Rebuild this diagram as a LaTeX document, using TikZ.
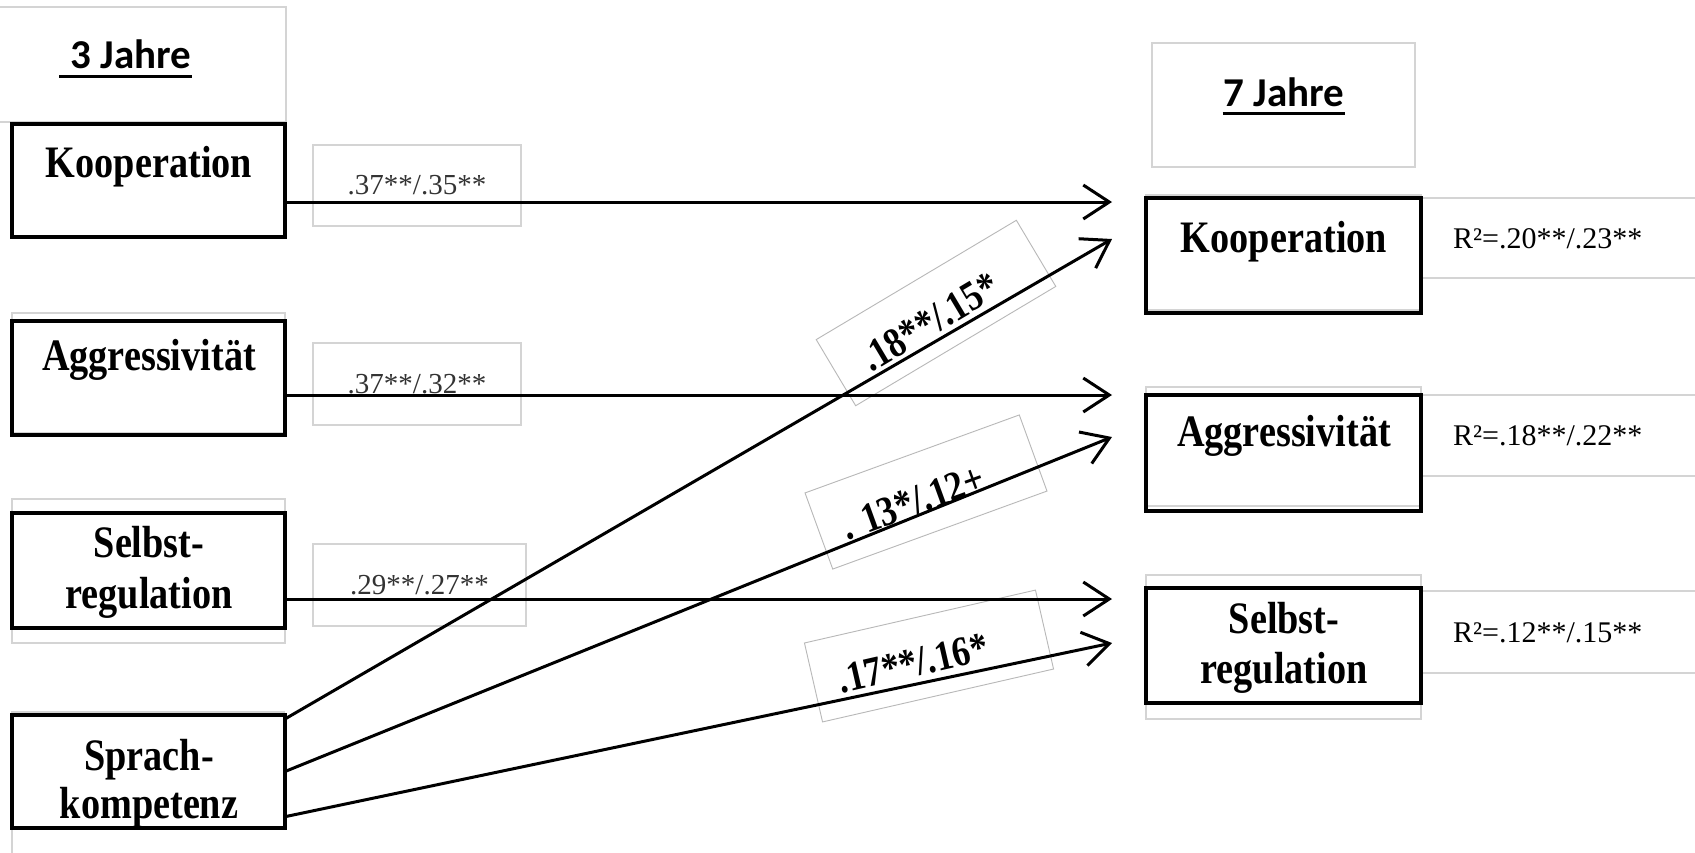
\documentclass[tikz,border=0pt]{standalone}
\usepackage{fontspec}
\usetikzlibrary{arrows.meta,calc}
\setmainfont{Liberation Serif}
\newfontfamily\boxfont{Liberation Serif}[FakeStretch=0.85]
\newfontfamily\headfont{Carlito}
\begin{document}
\begin{tikzpicture}[x=1pt,y=-1pt,
  varbox/.style={draw,line width=3.3pt,outer sep=0pt,inner sep=0pt,anchor=north west},
  faint/.style={draw=black!17,line width=1.2pt},
  rbox/.style={draw=black!28,line width=0.9pt,inner sep=0pt,outer sep=0pt},
  lbl/.style={font=\fontsize{45}{50}\selectfont\boxfont\bfseries,anchor=base,inner sep=0pt},
  rlbl/.style={font=\fontsize{42}{46}\selectfont\boxfont\bfseries,inner sep=0pt},
  head/.style={font=\fontsize{41}{46}\selectfont\headfont\bfseries,anchor=base,inner sep=0pt},
  plbl/.style={draw=black!17,line width=1.2pt,font=\fontsize{29}{32}\selectfont,text=black!80,inner sep=0pt},
  rsq/.style={font=\fontsize{30}{34}\selectfont,anchor=base west,inner sep=0pt},
  arr/.style={line width=3pt,-{Straight Barb[length=26pt,width=34pt]}}
]
\useasboundingbox[fill=white] (0,0) rectangle (1695,852);

% faint text-frame outlines
\draw[faint] (-2,7) rectangle (286,122);
\draw[faint] (12,313) rectangle (285,433);
\draw[faint] (12,499) rectangle (285,643);
\draw[faint] (285,712) -- (12,712) -- (12,880);
\draw[faint] (1152,43) rectangle (1415,167);
\draw[faint] (1146,195) rectangle (1421,310);
\draw[faint] (1146,387) rectangle (1421,506);
\draw[faint] (1146,575) rectangle (1421,719);
\draw[faint] (1421,198) rectangle (1710,278);
\draw[faint] (1421,395) rectangle (1710,476);
\draw[faint] (1421,591) rectangle (1710,673);

% headings
\node[head] (h3) at (131,68) {3 Jahre};
\draw[line width=3pt] ($(h3.base west)+(-11,8)$) -- ($(h3.base east)+(0,8)$);
\node[head] (h7) at (1284,106) {7 Jahre};
\draw[line width=3pt] ($(h7.base west)+(-1,7)$) -- ($(h7.base east)+(0,7)$);

% left boxes
\node[varbox,minimum width=273pt,minimum height=113pt] (lk) at (12,124) {};
\node[varbox,minimum width=273pt,minimum height=114pt] (la) at (12,321) {};
\node[varbox,minimum width=273pt,minimum height=115pt] (ls) at (12,513) {};
\node[varbox,minimum width=273pt,minimum height=113pt] (lsp) at (12,715) {};
\node[lbl] (tlk) at (149,177) {Kooperation};
\node[lbl] (tla) at (149,370) {Aggressivität};
\node[lbl] (tls1) at (149,557) {Selbst-};
\node[lbl] (tls2) at (149,608) {regulation};
\node[lbl] (tlsp1) at (149,770) {Sprach-};
\node[lbl] (tlsp2) at (149,818) {kompetenz};

% right boxes
\node[varbox,minimum width=275pt,minimum height=115pt] (rk) at (1146,198) {};
\node[varbox,minimum width=275pt,minimum height=116pt] (ra) at (1146,395) {};
\node[varbox,minimum width=275pt,minimum height=115pt] (rs) at (1146,588) {};
\node[lbl] (trk) at (1284,252) {Kooperation};
\node[lbl] (tra) at (1284,446) {Aggressivität};
\node[lbl] (trs1) at (1284,633) {Selbst-};
\node[lbl] (trs2) at (1284,683) {regulation};

% R squared
\node[rsq] (q1) at (1453,248) {R²=.20**/.23**};
\node[rsq] (q2) at (1453,445) {R²=.18**/.22**};
\node[rsq] (q3) at (1453,642) {R²=.12**/.15**};

% path labels (horizontal)
\node[plbl,minimum width=208pt,minimum height=81pt] (p1) at (417,185.5) {.37**/.35**};
\node[plbl,minimum width=208pt,minimum height=82pt] (p2) at (417,384) {.37**/.32**};
\node[plbl,minimum width=213pt,minimum height=82pt] (p3) at (419.5,585) {.29**/.27**};

% path labels (rotated)
\node[rbox,rotate=30.8,minimum width=233pt,minimum height=77pt] (r1) at (936,313) {};
\node[rlbl,rotate=30.8] (rt1) at (930,322) {.18**/.15*};
\node[rbox,rotate=20,minimum width=228pt,minimum height=81pt] (r2) at (926,492) {};
\node[rlbl,rotate=20] (rt2) at (913,502) {. 13*/.12+};
\node[rbox,rotate=12.9,minimum width=237pt,minimum height=81pt] (r3) at (929,656) {};
\node[rlbl,rotate=12.9] (rt3) at (913,663) {.17**/.16*};

% arrow targets
\coordinate (e1) at ($(rk.north west)+(-34,4)$);
\coordinate (e2) at ($(rk.north west)+(-34,41)$);
\coordinate (e3) at ($(ra.north west)+(-34,0)$);
\coordinate (e4) at ($(ra.north west)+(-34,42)$);
\coordinate (e5) at ($(rs.north west)+(-34,11)$);
\coordinate (e6) at ($(rs.north west)+(-34,55)$);

\draw[arr] (lk.east |- e1) -- (e1);
\draw[arr] (la.east |- e3) -- (e3);
\draw[arr] (ls.east |- e5) -- (e5);
\draw[arr] ($(lsp.north east)!0.035!(lsp.south east)$) -- (e2);
\draw[arr] ($(lsp.north east)!0.5!(lsp.south east)$) -- (e4);
\draw[arr] ($(lsp.north east)!0.9!(lsp.south east)$) -- (e6);
\end{tikzpicture}
\end{document}
